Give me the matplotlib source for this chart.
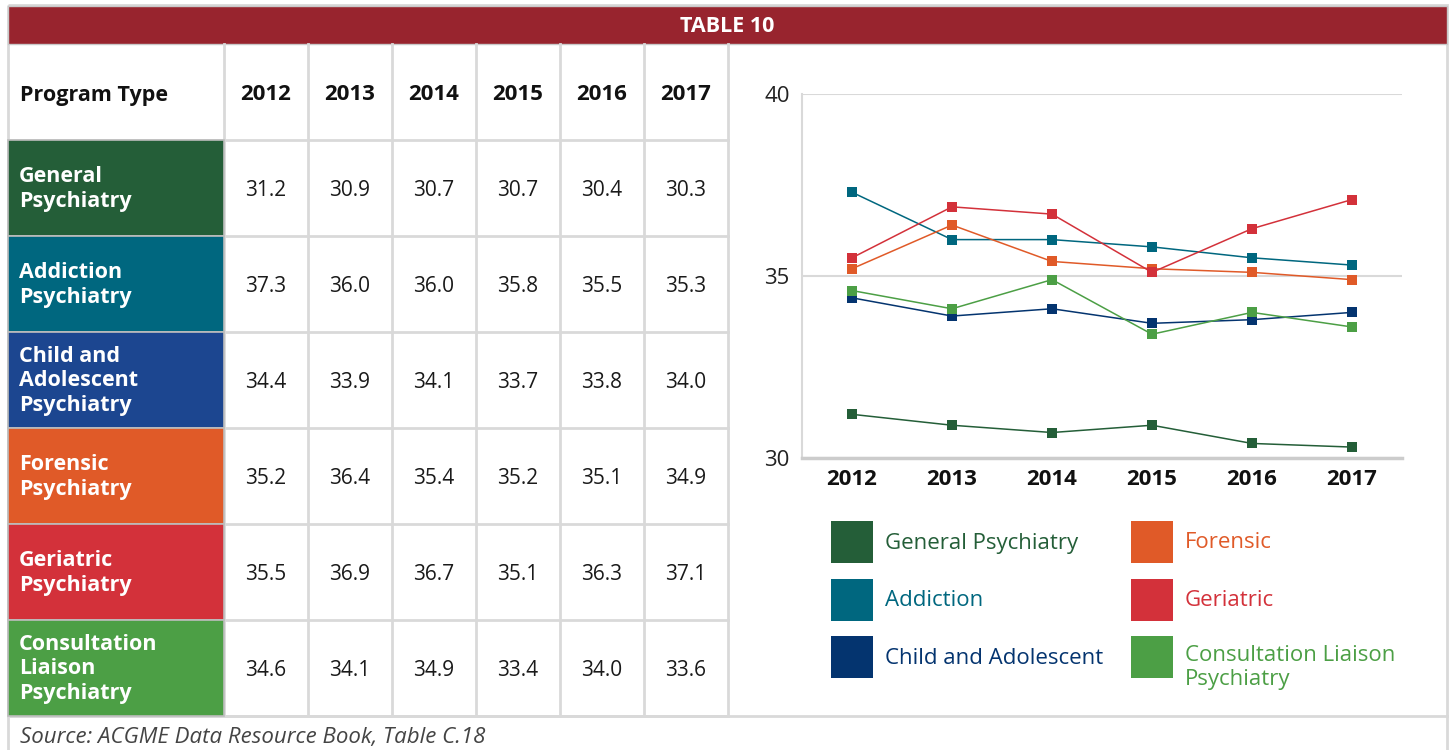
import matplotlib
matplotlib.use("Agg")
import matplotlib.pyplot as plt
from matplotlib.patches import Rectangle

plt.rcParams['font.family'] = ['Open Sans', 'DejaVu Sans']

# Data
years = ["2012", "2013", "2014", "2015", "2016", "2017"]
row_labels = ["General\nPsychiatry", "Addiction\nPsychiatry", "Child and\nAdolescent\nPsychiatry",
              "Forensic\nPsychiatry", "Geriatric\nPsychiatry", "Consultation\nLiaison\nPsychiatry"]
general = [31.2, 30.9, 30.7, 30.7, 30.4, 30.3]
addiction = [37.3, 36.0, 36.0, 35.8, 35.5, 35.3]
child = [34.4, 33.9, 34.1, 33.7, 33.8, 34.0]
forensic = [35.2, 36.4, 35.4, 35.2, 35.1, 34.9]
geriatric = [35.5, 36.9, 36.7, 35.1, 36.3, 37.1]
consult = [34.6, 34.1, 34.9, 33.4, 34.0, 33.6]
table_rows = [general, addiction, child, forensic, geriatric, consult]

# the chart plots General 2015 at 30.9
chart_general = [31.2, 30.9, 30.7, 30.9, 30.4, 30.3]
chart_series = [chart_general, addiction, child, forensic, geriatric, consult]
legend_names = ["General Psychiatry", "Addiction", "Child and Adolescent",
                "Forensic", "Geriatric", "Consultation Liaison\nPsychiatry"]

cell_colors = ["#245E38", "#00677F", "#1C4690", "#E05A28", "#D3313A", "#4C9F45"]
line_colors = ["#245E38", "#00677F", "#04346F", "#E05A28", "#D3313A", "#4C9F45"]
grid_c = "#D9D9D9"

W, H = 1450, 750
fig = plt.figure(figsize=(W / 100, H / 100), dpi=100)
bg = fig.add_axes([0, 0, 1, 1])
bg.set_xlim(0, W)
bg.set_ylim(H, 0)
bg.axis("off")

# outer frame and header bar
bg.add_patch(Rectangle((8, 5), 1439, 760, fill=False, ec=grid_c, lw=2))
bg.add_patch(Rectangle((8, 6), 1439, 38, fc="#98242E", ec="#C9C9C9", lw=1))
bg.text(727, 26, "TABLE 10", color="white", fontsize=15.5, fontweight="bold",
        ha="center", va="center")

# table geometry
col_x = [8, 224, 308, 392, 476, 560, 644, 728]
row_y = [44, 140, 236, 332, 428, 524, 620, 716]

for i, c in enumerate(cell_colors):
    bg.add_patch(Rectangle((col_x[0], row_y[i + 1]), col_x[1] - col_x[0],
                           row_y[i + 2] - row_y[i + 1], fc=c, ec="#BDBDBD", lw=1.2, zorder=2))

for y in row_y[1:]:
    bg.plot([8, 728], [y, y], color=grid_c, lw=2, zorder=1)
bg.plot([8, 1447], [716, 716], color=grid_c, lw=2, zorder=1)
for x in col_x[1:]:
    bg.plot([x, x], [44, 716], color=grid_c, lw=2, zorder=1)

bg.text(20, 95, "Program Type", fontsize=15.5, fontweight="bold", color="#111111",
        ha="left", va="center")
for j, yr in enumerate(years):
    cx = (col_x[j + 1] + col_x[j + 2]) / 2
    bg.text(cx, 95, yr, fontsize=16, fontweight="bold", color="#111111",
            ha="center", va="center")

for i, (lab, vals) in enumerate(zip(row_labels, table_rows)):
    cy = (row_y[i + 1] + row_y[i + 2]) / 2
    bg.text(19, cy + 1, lab, fontsize=15.5, fontweight="bold", color="white",
            ha="left", va="center", linespacing=1.22, zorder=3)
    for j, v in enumerate(vals):
        cx = (col_x[j + 1] + col_x[j + 2]) / 2
        bg.text(cx, cy + 2, f"{v:.1f}", fontsize=15, color="#1A1A1A",
                ha="center", va="center")

bg.text(20, 737, "Source: ACGME Data Resource Book, Table C.18", fontsize=16,
        style="italic", color="#444444", ha="left", va="center")

# line chart
ax = fig.add_axes([802 / W, 1 - 458 / H, 600 / W, 364 / H])
x = list(range(len(years)))
for s, c in zip(chart_series, line_colors):
    ax.plot(x, s, color=c, lw=1.1, marker="s", markersize=7, markeredgewidth=0, zorder=3)
ax.set_xlim(-0.5, 5.5)
ax.set_ylim(30, 40)
ax.set_yticks([30, 35, 40])
ax.set_xticks(x)
ax.set_xticklabels(years, fontsize=16, fontweight="bold", color="#111111")
ax.tick_params(axis="y", labelsize=16, colors="#222222", length=0, pad=9)
ax.tick_params(axis="x", length=0, pad=8)
ax.grid(axis="y", color=grid_c, lw=1.5)
ax.set_axisbelow(True)
for sp in ["top", "right"]:
    ax.spines[sp].set_visible(False)
ax.spines["left"].set_color(grid_c)
ax.spines["left"].set_linewidth(1.5)
ax.spines["bottom"].set_color("#CCCCCC")
ax.spines["bottom"].set_linewidth(2.5)

# legend
leg_x = [831, 1131]
leg_y = [521, 579, 636]
for k, (name, c) in enumerate(zip(legend_names, line_colors)):
    lx = leg_x[k // 3]
    ly = leg_y[k % 3]
    bg.add_patch(Rectangle((lx, ly), 42, 42, fc=c, ec="none"))
    if "\n" in name:
        bg.text(lx + 54, ly + 9, name, fontsize=16, color=c, ha="left",
                va="top", linespacing=1.2)
    else:
        bg.text(lx + 54, ly + 22, name, fontsize=16, color=c, ha="left",
                va="center")

fig.savefig("out.png", dpi=100)
